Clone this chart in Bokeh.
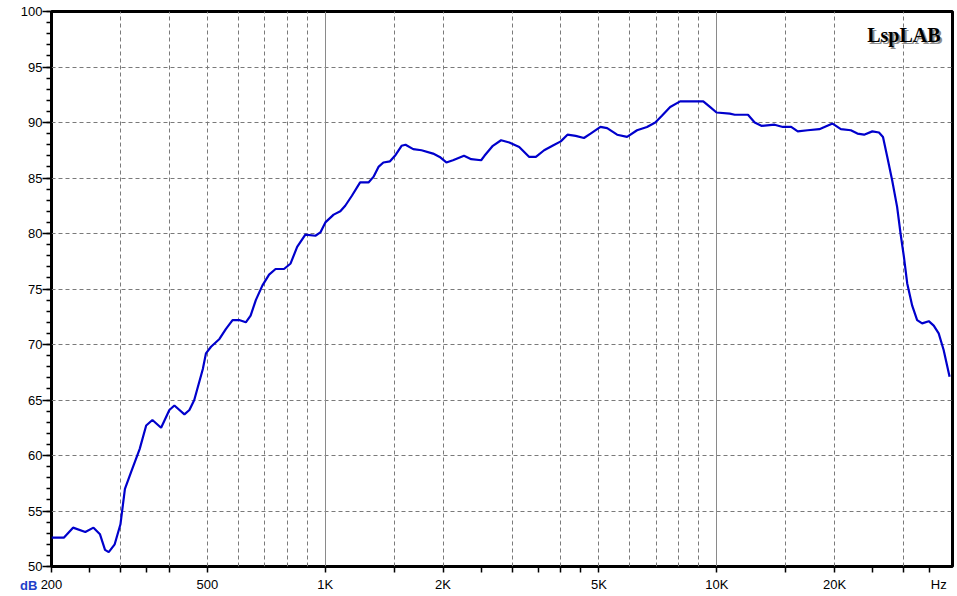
from bokeh.plotting import figure
from bokeh.models import Range1d, FixedTicker, Grid, Label
from bokeh.embed import file_html
from bokeh.resources import INLINE

# Frequency response (Hz, dB)
freq_hz = [200, 215, 227, 244, 256, 266, 274, 280, 290, 300, 308, 320, 336, 349, 362, 381,
           400, 412, 437, 450, 463, 487, 496, 511, 537, 558, 580, 603, 627, 645, 665, 691,
           719, 747, 785, 816, 848, 890, 944, 972, 1001, 1051, 1093, 1125, 1170, 1228, 1290,
           1328, 1368, 1408, 1464, 1507, 1567, 1604, 1678, 1762, 1886, 1961, 2039, 2120, 2262,
           2360, 2502, 2551, 2680, 2813, 2953, 3130, 3320, 3452, 3624, 3806, 3996, 4156, 4363,
           4579, 4762, 5047, 5249, 5566, 5902, 6258, 6635, 6966, 7243, 7604, 8063, 8546, 9238,
           9607, 9989, 10798, 11117, 12016, 12498, 13000, 14050, 14749, 15490, 16101, 17069,
           18280, 19757, 20747, 22000, 22870, 23784, 24963, 25960, 26580, 27260, 28050, 28880,
           29470, 30060, 30650, 31560, 32490, 33460, 34790, 35820, 36880, 37970, 39320]
spl_db = [52.6, 52.6, 53.5, 53.1, 53.5, 52.9, 51.5, 51.3, 52.0, 53.8, 57.0, 58.6, 60.6, 62.7,
          63.2, 62.5, 64.1, 64.5, 63.7, 64.1, 65.0, 67.8, 69.2, 69.8, 70.5, 71.4, 72.2, 72.2,
          72.0, 72.6, 74.0, 75.3, 76.3, 76.8, 76.8, 77.3, 78.8, 79.9, 79.8, 80.1, 81.0, 81.7,
          82.0, 82.5, 83.4, 84.6, 84.6, 85.1, 86.0, 86.4, 86.5, 87.0, 87.9, 88.0, 87.6, 87.5,
          87.2, 86.9, 86.4, 86.6, 87.0, 86.7, 86.6, 87.0, 87.9, 88.4, 88.2, 87.8, 86.9, 86.9,
          87.5, 87.9, 88.3, 88.9, 88.8, 88.6, 89.0, 89.6, 89.5, 88.9, 88.7, 89.3, 89.6, 90.0,
          90.6, 91.4, 91.9, 91.9, 91.9, 91.4, 90.9, 90.8, 90.7, 90.7, 90.0, 89.7, 89.8, 89.6,
          89.6, 89.2, 89.3, 89.4, 89.9, 89.4, 89.3, 89.0, 88.9, 89.2, 89.1, 88.7, 86.9, 84.8,
          82.4, 80.0, 77.9, 75.5, 73.5, 72.2, 71.9, 72.1, 71.7, 71.0, 69.5, 67.1]

# tick marks below the x axis
x_tick_marks = [200, 250, 300, 350, 400, 500, 1000, 1500, 2000, 2500, 3000, 3500, 4000, 4500,
                5000, 10000, 15000, 20000, 25000, 30000, 35000]
# labelled positions (the unit "Hz" sits at the far right of the axis)
x_label_pos = [200, 500, 1000, 2000, 5000, 10000, 20000, 36900]
x_label_text = ["200", "500", "1K", "2K", "5K", "10K", "20K", "Hz"]
x_grid_dashed = [300, 400, 500, 600, 700, 800, 900, 1500, 2000, 3000, 4000, 5000, 6000, 7000,
                 8000, 9000, 15000, 20000, 30000]
x_grid_solid = [1000, 10000]
y_ticks = list(range(50, 101, 5))
y_minor_ticks = list(range(50, 101))
y_grid = list(range(55, 100, 5))

FONT = "Liberation Sans"

p = figure(width=955, height=594, x_axis_type="log",
           x_range=Range1d(200, 40000), y_range=Range1d(50, 100),
           output_backend="svg", toolbar_location=None,
           min_border_left=48, min_border_right=3, min_border_top=11, min_border_bottom=28)
p.background_fill_color = "white"
p.border_fill_color = "white"
p.outline_line_color = "black"
p.outline_line_width = 3
p.outline_line_alpha = 1.0

# x axis: labels on zero-length major ticks, marks drawn as minor ticks
xa = p.xaxis[0]
xa.ticker = FixedTicker(ticks=x_label_pos, minor_ticks=x_tick_marks)
xa.major_label_overrides = dict(zip(x_label_pos, x_label_text))
xa.axis_line_color = None
xa.major_tick_in = 0
xa.major_tick_out = 0
xa.minor_tick_in = 0
xa.minor_tick_out = 6
xa.minor_tick_line_width = 1.5
xa.minor_tick_line_color = "black"
xa.major_label_standoff = 4
xa.major_label_text_font = FONT
xa.major_label_text_font_size = "13px"
xa.major_label_text_color = "black"

# y axis
ya = p.yaxis[0]
ya.ticker = FixedTicker(ticks=y_ticks, minor_ticks=y_minor_ticks)
ya.axis_line_color = None
ya.major_tick_in = 0
ya.major_tick_out = 9
ya.minor_tick_in = 0
ya.minor_tick_out = 5
ya.major_tick_line_width = 1.5
ya.minor_tick_line_width = 1.5
ya.major_tick_line_color = "black"
ya.minor_tick_line_color = "black"
ya.major_label_standoff = 0
ya.major_label_text_font = FONT
ya.major_label_text_font_size = "13px"
ya.major_label_text_color = "black"

# grids
p.xgrid[0].ticker = FixedTicker(ticks=x_grid_dashed)
p.xgrid[0].grid_line_color = "#7a7a7a"
p.xgrid[0].grid_line_dash = "4 3"
p.xgrid[0].grid_line_width = 1
p.ygrid[0].ticker = FixedTicker(ticks=y_grid)
p.ygrid[0].grid_line_color = "#7a7a7a"
p.ygrid[0].grid_line_dash = "4 3"
p.ygrid[0].grid_line_width = 1
solid_grid = Grid(dimension=0, ticker=FixedTicker(ticks=x_grid_solid),
                  grid_line_color="#8a8a8a", grid_line_width=1)
p.add_layout(solid_grid, "center")

# curve
p.line(freq_hz, spl_db, line_color="#0000CC", line_width=2.2)

# texts ("dB" lives in the left side panel so it is not clipped to the frame)
p.add_layout(Label(x=184, y=48.3, text="dB", text_align="right", text_baseline="middle",
                   text_font=FONT, text_font_size="13px", text_font_style="bold",
                   text_color="#1E40C8"), "left")
p.add_layout(Label(x=37300, y=97.9, x_offset=2, y_offset=-2, text="LspLAB", text_align="right",
                   text_baseline="alphabetic", text_font="Liberation Serif",
                   text_font_size="20px", text_font_style="bold", text_color="#8c8c8c"))
p.add_layout(Label(x=37300, y=97.9, text="LspLAB", text_align="right",
                   text_baseline="alphabetic", text_font="Liberation Serif",
                   text_font_size="20px", text_font_style="bold", text_color="black"))

open("out.html", "w").write(file_html(p, INLINE))
